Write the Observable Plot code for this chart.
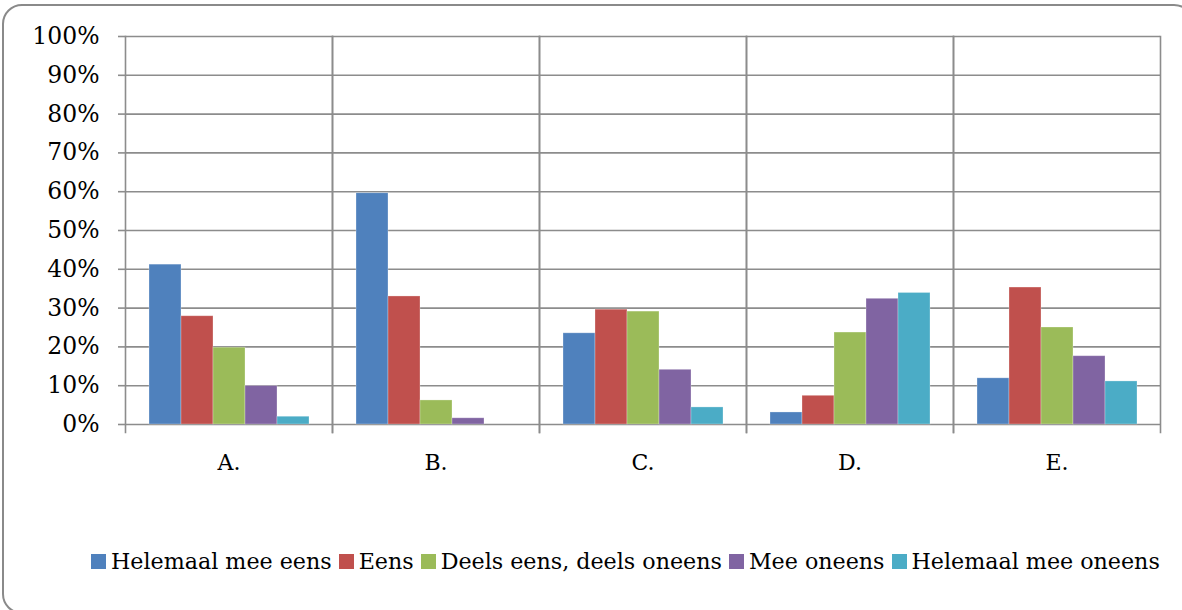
<!DOCTYPE html>
<html>
<head>
<meta charset="utf-8">
<script src="https://cdn.jsdelivr.net/npm/d3@7"></script>
<script src="https://cdn.jsdelivr.net/npm/@observablehq/plot@0.6"></script>
<style>
  html, body { margin: 0; padding: 0; background: #fff; }
  body { width: 1182px; height: 610px; overflow: hidden; position: relative; font-family: "DejaVu Serif", serif; }
  #box { position: absolute; left: 2px; top: 4px; width: 1192px; height: 610px; border: 2px solid #8a8a8a; border-radius: 20px; box-sizing: border-box; }
  #chart { position: absolute; left: 0; top: 0; }
  #legend { position: absolute; left: 91px; top: 548px; display: flex; align-items: center; font-size: 22.2px; color: #000; white-space: nowrap; }
  .item { display: flex; align-items: center; margin-right: 7px; }
  .sw { width: 15px; height: 15px; margin-right: 5px; }
</style>
</head>
<body>
<div id="box"></div>
<div id="chart"></div>
<div id="legend"></div>
<script>
const categories = ["A.", "B.", "C.", "D.", "E."];
const series = ["Helemaal mee eens", "Eens", "Deels eens, deels oneens", "Mee oneens", "Helemaal mee oneens"];
const colors = ["#4F81BD", "#C0504D", "#9BBB59", "#8064A2", "#4BACC6"];
const helemaalMeeEens   = [41.2, 59.6, 23.5,  3.1, 11.9];
const eens              = [27.9, 33.0, 29.6,  7.4, 35.3];
const deelsEensOneens   = [19.8,  6.2, 29.1, 23.7, 25.0];
const meeOneens         = [ 9.9,  1.6, 14.1, 32.4, 17.6];
const helemaalMeeOneens = [ 2.0,  0.0,  4.4, 33.9, 11.1];
const yTicks = [0, 10, 20, 30, 40, 50, 60, 70, 80, 90, 100];

const seriesValues = [helemaalMeeEens, eens, deelsEensOneens, meeOneens, helemaalMeeOneens];
const data = [];
categories.forEach((c, i) => {
  series.forEach((s, j) => data.push({cat: c, series: s, value: seriesValues[j][i]}));
});

const grid = "#8c8c8c";
const chart = Plot.plot({
  width: 1182,
  height: 480,
  marginLeft: 124,
  marginRight: 22,
  marginTop: 36,
  marginBottom: 56,
  style: {fontFamily: "DejaVu Serif", fontSize: "22px", color: "#000", background: "transparent"},
  fx: {domain: categories, paddingInner: 0, paddingOuter: 0, label: null, axis: null},
  x: {domain: series, paddingInner: 0, paddingOuter: 0.73, axis: null},
  y: {domain: [0, 100], label: null},
  color: {domain: series, range: colors},
  marks: [
    Plot.ruleY(yTicks, {stroke: grid, strokeWidth: 1.6}),
    Plot.frame({anchor: "left", stroke: grid, strokeWidth: 1.6, insetBottom: -8}),
    Plot.frame({anchor: "right", stroke: grid, strokeWidth: 1.6, insetBottom: -8}),
    Plot.axisY({ticks: yTicks, tickFormat: d => d + "%", tickSize: 7, tickPadding: 19, stroke: grid, strokeWidth: 1.6, strokeOpacity: 1, fontSize: 23.5, label: null}),
    Plot.axisFx({anchor: "bottom", tickSize: 0, tickPadding: 30, fontSize: 22, label: null}),
    Plot.barY(data, {fx: "cat", x: "series", y: "value", fill: "series", stroke: "#ffffff", strokeOpacity: 0.35, strokeWidth: 0.8})
  ]
});
document.getElementById("chart").appendChild(chart);

const legend = document.getElementById("legend");
series.forEach((s, j) => {
  const item = document.createElement("div");
  item.className = "item";
  const sw = document.createElement("div");
  sw.className = "sw";
  sw.style.background = colors[j];
  const t = document.createElement("span");
  t.textContent = s;
  item.appendChild(sw);
  item.appendChild(t);
  legend.appendChild(item);
});
</script>
</body>
</html>
